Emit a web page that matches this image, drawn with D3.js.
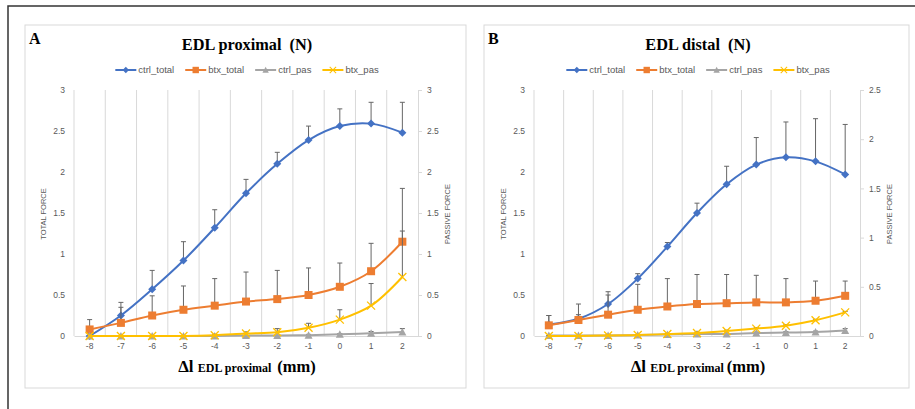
<!DOCTYPE html>
<html>
<head>
<meta charset="utf-8">
<script src="https://cdn.jsdelivr.net/npm/d3@7"></script>
<style>
body { margin: 0; background: #fff; }
text { font-family: "Liberation Sans", Arial, sans-serif; }
.serif { font-family: "Liberation Serif", "Times New Roman", serif; font-weight: bold; fill: #000; }
</style>
</head>
<body>
<script>
// x categories (length change, mm)
var lengths = [-8, -7, -6, -5, -4, -3, -2, -1, 0, 1, 2];
var seriesNames = ["ctrl_total", "btx_total", "ctrl_pas", "btx_pas"];
var seriesColors = ["#4472C4", "#ED7D31", "#A5A5A5", "#FFC000"];

// A - EDL proximal (N)
var proxCtrlTotal    = [0.00, 0.25, 0.57, 0.92, 1.32, 1.74, 2.10, 2.39, 2.56, 2.59, 2.48];
var proxCtrlTotalErr = [0.00, 0.16, 0.23, 0.23, 0.22, 0.17, 0.14, 0.17, 0.21, 0.26, 0.37];
var proxBtxTotal     = [0.08, 0.16, 0.25, 0.32, 0.37, 0.42, 0.45, 0.50, 0.60, 0.79, 1.15];
var proxBtxTotalErr  = [0.12, 0.19, 0.24, 0.29, 0.33, 0.36, 0.35, 0.33, 0.29, 0.34, 0.65];
var proxCtrlPas      = [0.00, 0.00, 0.00, 0.00, 0.00, 0.005, 0.005, 0.01, 0.02, 0.035, 0.05];
var proxCtrlPasErr   = [0.00, 0.00, 0.00, 0.00, 0.00, 0.00, 0.00, 0.01, 0.01, 0.02, 0.04];
var proxBtxPas       = [0.00, 0.00, 0.00, 0.00, 0.01, 0.03, 0.045, 0.10, 0.20, 0.37, 0.72];
var proxBtxPasErr    = [0.00, 0.00, 0.00, 0.00, 0.01, 0.02, 0.045, 0.055, 0.12, 0.27, 0.56];
var proxLeftTicks  = [0, 0.5, 1, 1.5, 2, 2.5, 3];
var proxRightTicks = [0, 0.5, 1, 1.5, 2, 2.5, 3];

// B - EDL distal (N), passive series on the right axis
var distCtrlTotal    = [0.14, 0.21, 0.39, 0.70, 1.09, 1.50, 1.85, 2.09, 2.18, 2.13, 1.97];
var distCtrlTotalErr = [0.11, 0.05, 0.15, 0.06, 0.05, 0.12, 0.22, 0.33, 0.43, 0.52, 0.61];
var distBtxTotal     = [0.13, 0.195, 0.26, 0.32, 0.36, 0.39, 0.40, 0.41, 0.41, 0.43, 0.49];
var distBtxTotalErr  = [0.12, 0.195, 0.24, 0.31, 0.34, 0.36, 0.35, 0.33, 0.29, 0.24, 0.18];
var distCtrlPas      = [0.005, 0.005, 0.005, 0.01, 0.015, 0.02, 0.02, 0.03, 0.035, 0.04, 0.055];
var distCtrlPasErr   = [0.00, 0.00, 0.005, 0.005, 0.005, 0.01, 0.01, 0.01, 0.01, 0.01, 0.02];
var distBtxPas       = [0.00, 0.00, 0.005, 0.01, 0.02, 0.03, 0.05, 0.075, 0.105, 0.16, 0.24];
var distBtxPasErr    = [0.005, 0.005, 0.005, 0.005, 0.005, 0.01, 0.01, 0.01, 0.01, 0.01, 0.01];
var distLeftTicks  = [0, 0.5, 1, 1.5, 2, 2.5, 3];
var distRightTicks = [0, 0.5, 1, 1.5, 2, 2.5];

var svg = d3.select("body").append("svg")
  .attr("width", 915)
  .attr("height", 409);

// outer frame (top + left edge only visible)
svg.append("path")
  .attr("d", "M8,409V6H915")
  .attr("fill", "none")
  .attr("stroke", "#333")
  .attr("stroke-width", 1.5);

function marker(g, type, color) {
  if (type == 0) {
    g.append("path").attr("d", "M0,-4L4,0L0,4L-4,0Z").attr("fill", color);
  } else if (type == 1) {
    g.append("rect").attr("x", -4).attr("y", -4).attr("width", 8).attr("height", 8).attr("fill", color);
  } else if (type == 2) {
    g.append("path").attr("d", "M0,-4L4,3.5L-4,3.5Z").attr("fill", color);
  } else {
    g.append("path").attr("d", "M-4,-4L4,4M-4,4L4,-4").attr("stroke", color).attr("stroke-width", 1.3).attr("fill", "none");
  }
}

function drawPanel(p) {
  var g = svg.append("g");

  g.append("rect")
    .attr("x", p.box[0]).attr("y", p.box[1])
    .attr("width", p.box[2] - p.box[0]).attr("height", p.box[3] - p.box[1])
    .attr("fill", "#fff").attr("stroke", "#d9d9d9");

  var x = d3.scaleBand().domain(lengths).range([p.left, p.right]);
  var y = d3.scaleLinear().domain([0, 3]).range([336, 90]);
  var y2 = d3.scaleLinear().domain([0, p.rightMax]).range([336, 90]);
  var cx = d => x(d) + x.bandwidth() / 2;

  // vertical gridlines
  g.selectAll("line.grid")
    .data(lengths)
    .enter().append("line")
      .attr("class", "grid")
      .attr("x1", d => x(d)).attr("x2", d => x(d))
      .attr("y1", 90).attr("y2", 336)
      .attr("stroke", "#d9d9d9");

  // left axis
  var ax = g.append("g")
    .attr("transform", "translate(" + p.left + ",0)")
    .call(d3.axisLeft(y).tickValues(p.leftTicks).tickSize(0).tickPadding(9).tickFormat(d => d));
  ax.select(".domain").remove();

  // right axis
  var ax2 = g.append("g")
    .attr("transform", "translate(" + p.right + ",0)")
    .call(d3.axisRight(y2).tickValues(p.rightTicks).tickSize(4).tickSizeOuter(0).tickPadding(5).tickFormat(d => d));
  ax2.select(".domain").attr("stroke", "#d9d9d9");
  ax2.selectAll(".tick line").attr("stroke", "#d9d9d9");

  // bottom axis
  var bx = g.append("g")
    .attr("transform", "translate(0,336)")
    .call(d3.axisBottom(x).tickSize(0).tickPadding(7));
  bx.select(".domain").attr("stroke", "#d9d9d9");

  g.selectAll(".tick text")
    .attr("fill", "#595959")
    .attr("font-size", 8.5)
    .attr("font-family", "Liberation Sans, Arial, sans-serif");

  // axis titles
  g.append("text")
    .attr("transform", "translate(" + p.leftTitleX + ",214) rotate(-90)")
    .attr("text-anchor", "middle")
    .attr("dominant-baseline", "middle")
    .attr("font-size", 7.5)
    .attr("fill", "#595959")
    .text("TOTAL FORCE");
  g.append("text")
    .attr("transform", "translate(" + p.rightTitleX + ",214) rotate(-90)")
    .attr("text-anchor", "middle")
    .attr("dominant-baseline", "middle")
    .attr("font-size", 7.5)
    .attr("fill", "#595959")
    .text("PASSIVE FORCE");

  // letter + title
  g.append("text").attr("class", "serif")
    .attr("x", p.box[0] + 4).attr("y", 44)
    .attr("font-size", 16)
    .text(p.letter);
  g.append("text").attr("class", "serif")
    .attr("x", p.center).attr("y", 50)
    .attr("text-anchor", "middle")
    .attr("font-size", 16.3)
    .style("white-space", "pre")
    .text(p.title);

  // x title
  var xt = g.append("text").attr("class", "serif")
    .attr("x", p.center).attr("y", 372)
    .attr("text-anchor", "middle")
    .style("white-space", "pre");
  xt.append("tspan").attr("font-size", 17).text("\u0394l ");
  xt.append("tspan").attr("font-size", 12).text("EDL proximal" + p.xGap);
  xt.append("tspan").attr("font-size", 16.5).text("(mm)");

  // series
  var line = d3.line().curve(d3.curveCatmullRom.alpha(0.5));
  p.series.forEach(function(s, k) {
    var sy = s.axis == 2 ? y2 : y;
    var pts = s.values.map((v, i) => [cx(lengths[i]), sy(v)]);

    // error bars (plus direction)
    var eb = g.append("g");
    s.values.forEach(function(v, i) {
      if (s.errors[i] <= 0) return;
      var xx = cx(lengths[i]);
      eb.append("line")
        .attr("x1", xx).attr("x2", xx)
        .attr("y1", sy(v)).attr("y2", sy(v + s.errors[i]))
        .attr("stroke", "#666").attr("stroke-width", 1);
      eb.append("line")
        .attr("x1", xx - 2.5).attr("x2", xx + 2.5)
        .attr("y1", sy(v + s.errors[i])).attr("y2", sy(v + s.errors[i]))
        .attr("stroke", "#666").attr("stroke-width", 1);
    });

    g.append("path")
      .attr("d", line(pts))
      .attr("fill", "none")
      .attr("stroke", seriesColors[k])
      .attr("stroke-width", 2);

    pts.forEach(function(pt) {
      marker(g.append("g").attr("transform", "translate(" + pt[0] + "," + pt[1] + ")"), k, seriesColors[k]);
    });
  });

  // legend, centred over the panel
  var lg = g.append("g");
  var items = seriesNames.map(function(name, k) {
    var it = lg.append("g");
    it.append("line").attr("x1", 0).attr("x2", 21).attr("y1", 0).attr("y2", 0)
      .attr("stroke", seriesColors[k]).attr("stroke-width", 2);
    marker(it.append("g").attr("transform", "translate(10.5,0) scale(0.8)"), k, seriesColors[k]);
    var t = it.append("text").attr("x", 23).attr("y", 3.3)
      .attr("font-size", 9.5).attr("fill", "#595959").text(name);
    return { g: it, w: 23 + t.node().getComputedTextLength() };
  });
  var gap = 11;
  var total = d3.sum(items, d => d.w) + gap * (items.length - 1);
  var xx = p.center - total / 2;
  items.forEach(function(it) {
    it.g.attr("transform", "translate(" + xx + ",70)");
    xx += it.w + gap;
  });
}

drawPanel({
  letter: "A", title: "EDL proximal  (N)", xGap: "  ",
  box: [25, 25, 466, 388], left: 74, right: 418, center: 247,
  leftTitleX: 44, rightTitleX: 448, rightMax: 3,
  leftTicks: proxLeftTicks, rightTicks: proxRightTicks,
  series: [
    { values: proxCtrlTotal, errors: proxCtrlTotalErr, axis: 1 },
    { values: proxBtxTotal, errors: proxBtxTotalErr, axis: 1 },
    { values: proxCtrlPas, errors: proxCtrlPasErr, axis: 2 },
    { values: proxBtxPas, errors: proxBtxPasErr, axis: 2 }
  ]
});

drawPanel({
  letter: "B", title: "EDL distal  (N)", xGap: " ",
  box: [484, 25, 909, 388], left: 534, right: 860, center: 698,
  leftTitleX: 504, rightTitleX: 890, rightMax: 2.5,
  leftTicks: distLeftTicks, rightTicks: distRightTicks,
  series: [
    { values: distCtrlTotal, errors: distCtrlTotalErr, axis: 1 },
    { values: distBtxTotal, errors: distBtxTotalErr, axis: 1 },
    { values: distCtrlPas, errors: distCtrlPasErr, axis: 2 },
    { values: distBtxPas, errors: distBtxPasErr, axis: 2 }
  ]
});
</script>
</body>
</html>
